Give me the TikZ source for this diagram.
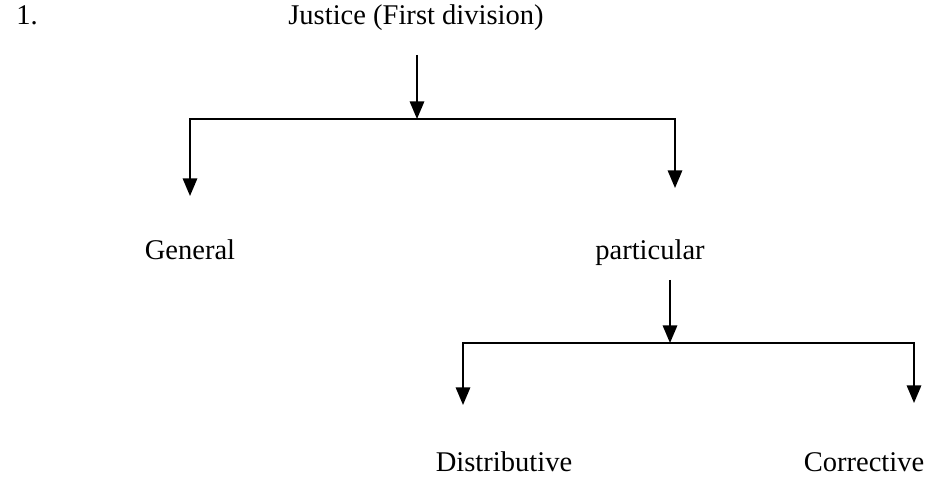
\documentclass[tikz,border=0pt]{standalone}
\usepackage{fontspec}
\setmainfont{Liberation Serif}
\usetikzlibrary{arrows.meta}
\tikzset{
	txt/.style={font=\fontsize{20.3}{24}\selectfont, inner sep=0pt, anchor=base},
	arr/.style={line width=1.3pt, -{Triangle[width=0.36cm,length=0.44cm]}}
}
\begin{document}
	\begin{tikzpicture}
		\useasboundingbox (0,0) rectangle (23.3,-12.25);
		\draw
		node[txt, anchor=base west] at (0.4,-0.62) (num) {1.}
		node[txt] at (10.4,-0.62) (just) {Justice (First division)}
		node[txt] at (4.75,-6.49) (gen) {General}
		node[txt] at (16.25,-6.49) (part) {particular}
		node[txt] at (12.6,-11.79) (dist) {Distributive}
		node[txt] at (21.6,-11.79) (corr) {Corrective};
		% junctions and arrow ends
		\coordinate (top1) at (10.425,-1.375);
		\coordinate (j1) at (10.425,-2.975);
		\coordinate (g1) at (4.75,-4.9);
		\coordinate (p1) at (16.875,-4.7);
		\coordinate (top2) at (16.75,-7.0);
		\coordinate (j2) at (16.75,-8.575);
		\coordinate (d1) at (11.575,-10.125);
		\coordinate (c1) at (22.85,-10.075);
		\draw[arr] (top1) -- (j1);
		\draw[arr] (j1) -| (g1);
		\draw[arr] (j1) -| (p1);
		\draw[arr] (top2) -- (j2);
		\draw[arr] (j2) -| (d1);
		\draw[arr] (j2) -| (c1);
	\end{tikzpicture}
\end{document}
